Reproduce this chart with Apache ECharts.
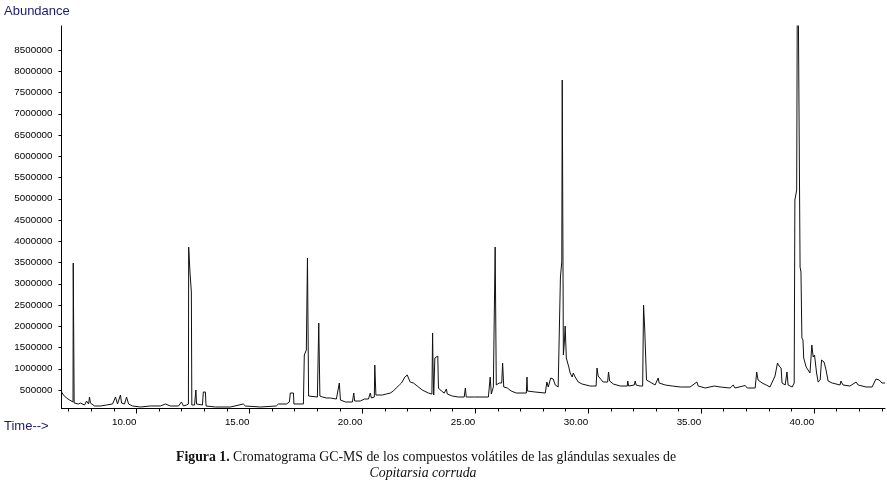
<!DOCTYPE html>
<html>
<head>
<meta charset="utf-8">
<script src="https://cdn.jsdelivr.net/npm/echarts@6/dist/echarts.min.js"></script>
<style>
html,body{margin:0;padding:0;background:#fff;}
#chart{width:887px;height:485px;}
</style>
</head>
<body>
<div id="chart"></div>
<script>
// Retention time (min)
const times = [
6.68,6.77,6.90,7.04,7.12,7.19,7.20,7.23,7.24,7.43,7.52,7.70,7.79,7.88,7.92,7.96,8.14,8.41,8.67,8.94,
9.07,9.16,9.29,9.34,9.47,9.56,9.65,9.82,10.18,10.62,11.06,11.28,11.50,11.86,11.99,12.08,12.21,12.30,12.31,12.36,
12.37,12.43,12.45,12.57,12.63,12.66,12.92,12.96,13.05,13.08,13.50,14.16,14.73,14.82,15.49,16.19,16.28,16.64,16.77,16.81,
16.95,16.97,17.39,17.43,17.52,17.57,17.60,17.62,17.70,18.01,18.07,18.10,18.12,18.23,18.41,18.58,18.85,18.98,19.03,19.25,
19.56,19.62,19.66,19.91,20.09,20.27,20.35,20.40,20.53,20.55,20.58,20.60,20.89,21.06,21.24,21.37,21.50,21.64,21.73,21.81,
21.88,21.95,21.99,22.04,22.12,22.26,22.43,22.65,22.92,23.08,23.11,23.13,23.16,23.21,23.27,23.34,23.37,23.50,23.63,23.72,
23.76,23.98,24.25,24.51,24.56,24.60,24.96,25.58,25.66,25.71,25.80,25.86,25.88,25.91,25.93,26.06,26.17,26.21,26.24,26.26,
26.42,26.59,26.81,27.26,27.29,27.31,27.65,28.10,28.17,28.23,28.34,28.45,28.54,28.67,28.74,28.77,28.83,28.85,28.88,28.90,
28.95,28.98,29.01,29.03,29.09,29.14,29.20,29.29,29.34,29.42,29.56,29.73,30.09,30.35,30.39,30.44,30.66,30.86,30.90,30.95,
31.11,31.42,31.73,31.75,31.79,32.04,32.08,32.12,32.30,32.41,32.45,32.48,32.50,32.56,32.58,32.74,32.96,33.10,33.14,33.41,
33.72,34.07,34.51,34.81,34.87,35.18,35.58,35.84,36.28,36.42,36.50,36.95,37.04,37.39,37.46,37.52,37.70,37.88,38.05,38.27,
38.38,38.45,38.54,38.58,38.72,38.80,38.85,39.03,39.12,39.15,39.23,39.27,39.35,39.38,39.42,39.46,39.51,39.54,39.65,39.73,
39.82,39.90,39.96,40.02,40.11,40.18,40.27,40.33,40.44,40.53,40.62,40.80,41.15,41.19,41.28,41.59,41.86,41.95,42.30,42.57,
42.74,42.88,43.01,43.14
];
// Abundance (counts)
const abundance = [
453000,382000,312000,265000,218000,218000,3488000,3488000,194000,171000,194000,147000,241000,171000,335000,194000,124000,124000,147000,171000,
335000,171000,382000,194000,171000,335000,171000,124000,100000,124000,124000,171000,124000,124000,218000,124000,147000,171000,3865000,3865000,
3253000,2806000,147000,147000,500000,171000,147000,453000,453000,124000,100000,100000,171000,124000,100000,124000,171000,171000,218000,429000,
429000,171000,171000,1324000,1441000,3606000,3606000,359000,382000,335000,2076000,2076000,359000,335000,312000,312000,288000,665000,265000,218000,
218000,429000,241000,241000,288000,288000,429000,312000,335000,1088000,1088000,382000,382000,406000,429000,476000,547000,618000,665000,735000,
806000,759000,853000,782000,688000,665000,594000,500000,429000,406000,1841000,1041000,382000,1253000,1276000,1300000,547000,476000,429000,524000,
406000,359000,335000,335000,547000,335000,335000,335000,806000,406000,571000,594000,3865000,3865000,618000,665000,665000,1135000,1135000,571000,
547000,476000,429000,429000,806000,476000,453000,429000,688000,571000,782000,759000,618000,571000,571000,3159000,3512000,7794000,7794000,1324000,
1676000,2006000,2006000,1253000,1206000,1041000,900000,806000,900000,806000,688000,641000,594000,594000,1018000,829000,688000,688000,924000,712000,
641000,594000,594000,712000,594000,618000,712000,618000,594000,594000,2500000,2500000,1959000,1959000,735000,688000,618000,782000,665000,618000,
594000,571000,571000,688000,594000,547000,594000,571000,547000,618000,547000,606000,547000,547000,924000,735000,665000,618000,571000,829000,
1135000,1065000,1018000,665000,618000,924000,618000,571000,665000,4971000,5206000,12000000,12000000,3394000,3276000,1724000,1676000,1253000,1041000,1018000,
900000,1559000,1276000,1324000,900000,688000,735000,1206000,1159000,971000,712000,665000,618000,712000,618000,594000,688000,618000,571000,571000,
759000,735000,665000,665000
];
// Axis ticks
const yTickValues = [500000,1000000,1500000,2000000,2500000,3000000,3500000,4000000,4500000,5000000,5500000,6000000,6500000,7000000,7500000,8000000,8500000];
const xMajorTicks = [10,15,20,25,30,35,40];
const xMinorTicks = [7,8,9,11,12,13,14,16,17,18,19,21,22,23,24,26,27,28,29,31,32,33,34,36,37,38,39,41,42,43];

const X_MIN = 6.68, X_MAX = 43.14, Y_MIN = 65000, Y_MAX = 9065000;
const labelFont = 'Liberation Sans, Arial, sans-serif';
const serif = 'Liberation Serif, Times New Roman, serif';

const chart = echarts.init(document.getElementById('chart'), null, {renderer: 'canvas'});
chart.setOption({
  animation: false,
  backgroundColor: '#ffffff',
  title: [
    {text: 'Abundance', left: 4, top: 5, padding: 0, textStyle: {fontFamily: labelFont, fontSize: 13, fontWeight: 'normal', color: '#1c1c72'}},
    {text: 'Time-->', left: 4, top: 420, padding: 0, textStyle: {fontFamily: labelFont, fontSize: 13, fontWeight: 'normal', color: '#1c1c72'}},
    {text: '{b|Figura 1.} Cromatograma GC-MS de los compuestos volátiles de las glándulas sexuales de',
     left: 426, top: 450, padding: 0, textAlign: 'center',
     textStyle: {fontFamily: serif, fontSize: 13.8, fontWeight: 'normal', color: '#111',
       rich: {b: {fontFamily: serif, fontSize: 13.8, fontWeight: 'bold', color: '#111'}}}},
    {text: 'Copitarsia corruda', left: 423, top: 466, padding: 0, textAlign: 'center',
     textStyle: {fontFamily: serif, fontSize: 13.8, fontWeight: 'normal', fontStyle: 'italic', color: '#111'}}
  ],
  grid: {left: 61.5, right: 2, top: 26, bottom: 76.5, containLabel: false},
  xAxis: [
    {type: 'value', min: X_MIN, max: X_MAX, position: 'bottom',
     axisLine: {show: true, lineStyle: {color: '#000', width: 1}},
     axisTick: {show: true, length: 5, customValues: xMajorTicks, lineStyle: {color: '#000'}},
     axisLabel: {show: true, customValues: xMajorTicks, align: 'right', margin: 9,
       formatter: v => v.toFixed(2), fontFamily: labelFont, fontSize: 9.8, color: '#000'},
     splitLine: {show: false}},
    {type: 'value', min: X_MIN, max: X_MAX, position: 'bottom',
     axisLine: {show: false},
     axisTick: {show: true, length: 3, customValues: xMinorTicks, lineStyle: {color: '#000'}},
     axisLabel: {show: false},
     splitLine: {show: false}}
  ],
  yAxis: {type: 'value', min: Y_MIN, max: Y_MAX,
    axisLine: {show: true, lineStyle: {color: '#000', width: 1}},
    axisTick: {show: true, length: 3, customValues: yTickValues, lineStyle: {color: '#000'}},
    axisLabel: {show: true, customValues: yTickValues, margin: 9, formatter: v => String(v),
      fontFamily: labelFont, fontSize: 9.8, color: '#000'},
    splitLine: {show: false}},
  series: [{
    type: 'line', xAxisIndex: 0, yAxisIndex: 0,
    data: times.map((t, i) => [t, abundance[i]]),
    showSymbol: false, symbol: 'none', clip: true,
    lineStyle: {color: '#111', width: 1}
  }]
});
</script>
</body>
</html>
